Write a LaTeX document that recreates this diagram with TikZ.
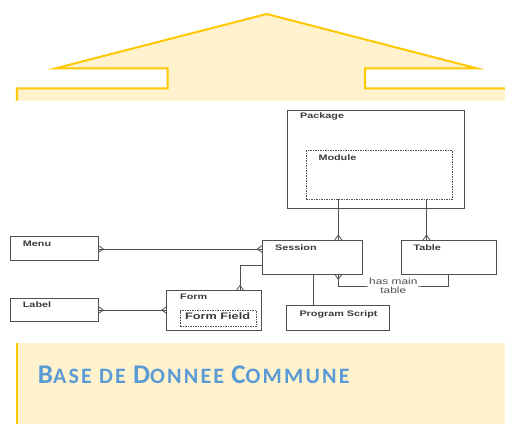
\documentclass[tikz,border=0pt]{standalone}
\usepackage{fontspec}
\setmainfont{Liberation Sans}
\newfontfamily\diagfont[FakeStretch=1.35]{Liberation Sans}
\newfontfamily\titlefont[LetterSpace=10]{Carlito}
\definecolor{gold}{HTML}{FFC800}
\definecolor{cream}{HTML}{FFF2CC}
\definecolor{titleblue}{HTML}{5B9BD5}
\definecolor{ink}{HTML}{3A3A3A}
\definecolor{wire}{HTML}{505050}
% fake small capitals: big initial, smaller rest
\newcommand{\bigsmall}[2]{{\fontsize{27}{27}\selectfont #1}#2}
\begin{document}
\begin{tikzpicture}[x=1pt,y={(0,-1pt)},
  box/.style={draw=wire, line width=0.8pt, inner sep=0pt, outer sep=0pt, anchor=north west},
  dbox/.style={box, dashed, dash pattern=on 1.5pt off 1pt},
  lbl/.style={inner sep=0pt, anchor=base west, text=ink, font=\diagfont\bfseries\fontsize{8}{9}\selectfont},
  connector/.style={draw=wire, line width=0.8pt},
  crowfoot/.pic={\draw[connector] (5,0) -- (0,3.5) (5,0) -- (0,-3.5);}
]
\useasboundingbox (0,0) rectangle (505,423);

% roof banner
\fill[cream] (15.7,100.5) -- (15.7,88.3) -- (167.7,88.3) -- (167.7,68.3) -- (55.7,68.3)
  -- (266.7,14) -- (476.7,68.3) -- (365,68.3) -- (365,88.3) -- (506,88.3) -- (506,100.5) -- cycle;
\draw[gold, line width=2pt, line join=miter] (16.8,100.5) -- (16.8,88.3) -- (167.7,88.3) -- (167.7,68.3) -- (55.7,68.3)
  -- (266.7,14) -- (476.7,68.3) -- (365,68.3) -- (365,88.3) -- (506,88.3);

% bottom banner
\fill[cream] (15.7,343.3) rectangle (506,424);
\draw[gold, line width=2.6pt] (17,343.3) -- (17,424);
\node[inner sep=0pt, anchor=base west, text=titleblue, font=\titlefont\bfseries\fontsize{22}{22}\selectfont] (title) at (37.7,383)
  {\bigsmall{B}{ASE DE} \bigsmall{D}{ONNEE} \bigsmall{C}{OMMUNE}};

% boxes
\node[box, minimum width=177pt, minimum height=98.3pt] (package) at (287.3,110) {};
\node[dbox, minimum width=146pt, minimum height=48.6pt] (module) at (306.3,150.7) {};
\node[box, minimum width=100pt, minimum height=34.3pt] (session) at (262.3,240) {};
\node[box, minimum width=95.7pt, minimum height=34.3pt] (table) at (401,240) {};
\node[box, minimum width=102.6pt, minimum height=24.8pt] (progscript) at (286.7,305.7) {};
\node[box, minimum width=87.6pt, minimum height=24pt] (menu) at (10.7,236.7) {};
\node[box, minimum width=87.6pt, minimum height=23.4pt] (labelbox) at (10.7,298.3) {};
\node[box, minimum width=95pt, minimum height=40.2pt] (form) at (166.7,290.3) {};
\node[dbox, minimum width=76.7pt, minimum height=15.3pt] (formfield) at (180,310.7) {};

% box titles
\node[lbl] (package-t) at (300,118.6) {Package};
\node[lbl] (module-t) at (318.3,160.2) {Module};
\node[lbl] (session-t) at (275,250.6) {Session};
\node[lbl] (table-t) at (413.3,250.6) {Table};
\node[lbl] (progscript-t) at (299.3,316.2) {Program Script};
\node[lbl] (menu-t) at (22.7,246.2) {Menu};
\node[lbl] (labelbox-t) at (22.7,307.9) {Label};
\node[lbl] (form-t) at (180,299.6) {Form};
\node[lbl, font=\diagfont\bfseries\fontsize{9.4}{10}\selectfont] (formfield-t) at (185,319.2) {Form Field};

% connectors
\draw[connector] ([xshift=32pt]module.south west) -- ([xshift=76pt]session.north west);
\draw[connector] ([xshift=120.2pt]module.south west) -- ([xshift=25.5pt]table.north west);
\draw[connector] ([yshift=-12.3pt]menu.north east) -- ([yshift=-9pt]session.north west);
\draw[connector] ([yshift=-11.7pt]labelbox.north east) -- ([yshift=-19.7pt]form.north west);
\draw[connector] ([xshift=73.3pt]form.north west) |- ([yshift=-25.7pt]session.north west);
\draw[connector] ([xshift=51pt]session.south west) -- ([xshift=26.6pt]progscript.north west);
\coordinate (hmbend) at (393.3,286);
\draw[connector] ([xshift=76pt]session.south west) |- (hmbend) -| ([xshift=47.3pt]table.south west);
\node[fill=white, inner sep=1pt, align=center, text=wire, font=\diagfont\fontsize{8.8}{9.6}\selectfont] (hasmain) at (hmbend) {has main\\table};

% crow's feet (many ends)
\pic[rotate=90] at ([xshift=76pt]session.north west) {crowfoot};
\pic[rotate=90] at ([xshift=25.5pt]table.north west) {crowfoot};
\pic[rotate=180] at ([yshift=-9pt]session.north west) {crowfoot};
\pic[rotate=0] at ([yshift=-12.3pt]menu.north east) {crowfoot};
\pic[rotate=90] at ([xshift=73.3pt]form.north west) {crowfoot};
\pic[rotate=-90] at ([xshift=76pt]session.south west) {crowfoot};
\pic[rotate=0] at ([yshift=-11.7pt]labelbox.north east) {crowfoot};
\pic[rotate=180] at ([yshift=-19.7pt]form.north west) {crowfoot};
\end{tikzpicture}
\end{document}
